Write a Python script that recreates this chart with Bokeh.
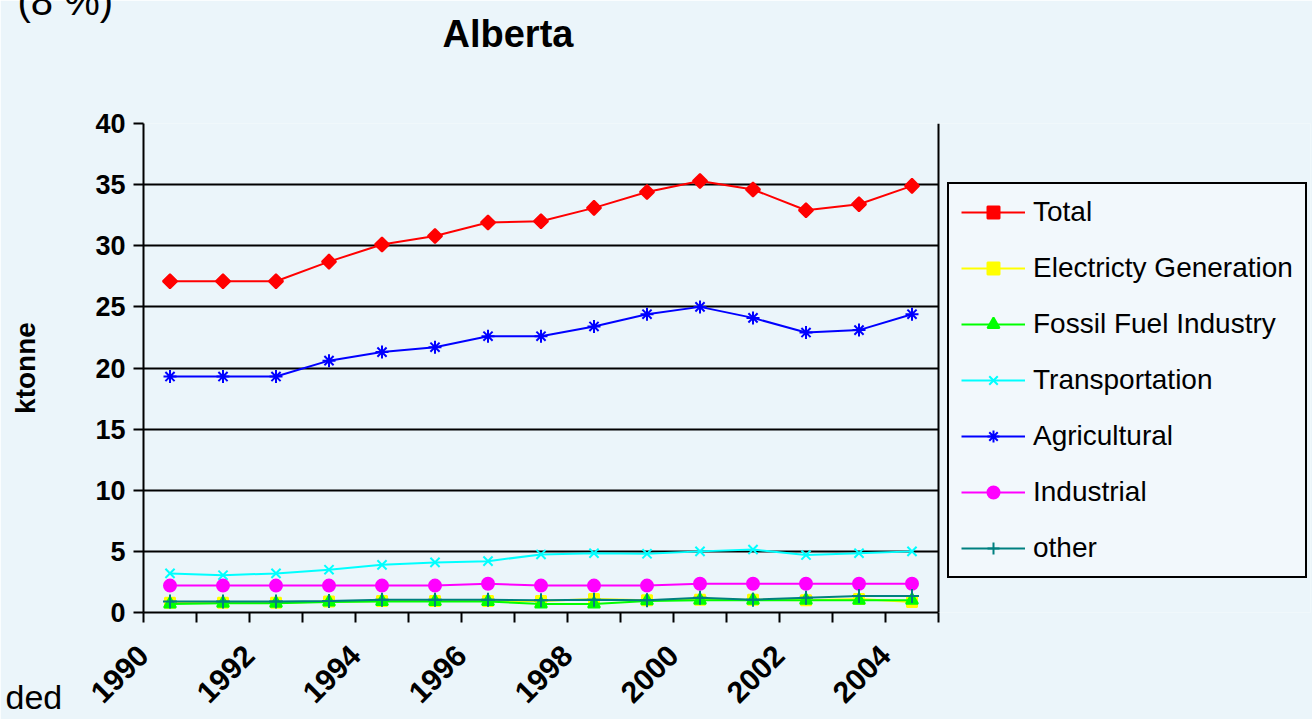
from bokeh.plotting import figure
from bokeh.models import Legend, LegendItem, FixedTicker, Range1d, Title, Span
from bokeh.embed import file_html
from bokeh.resources import INLINE

years = list(range(1990, 2005))
total = [27.1, 27.1, 27.1, 28.7, 30.1, 30.8, 31.9, 32.0, 33.1, 34.4, 35.3, 34.6, 32.9, 33.4, 34.9]
electricity = [0.8, 0.8, 0.8, 0.9, 0.95, 0.95, 0.95, 0.95, 1.1, 1.0, 1.05, 1.05, 1.0, 1.1, 0.85]
fossil = [0.7, 0.75, 0.75, 0.85, 0.9, 0.9, 0.9, 0.7, 0.7, 0.95, 1.0, 1.0, 1.0, 1.0, 1.0]
transportation = [3.2, 3.05, 3.2, 3.5, 3.9, 4.1, 4.2, 4.75, 4.85, 4.8, 5.0, 5.15, 4.7, 4.85, 5.0]
agricultural = [19.3, 19.3, 19.3, 20.6, 21.3, 21.7, 22.6, 22.6, 23.4, 24.4, 25.0, 24.1, 22.9, 23.1, 24.4]
industrial = [2.2, 2.2, 2.2, 2.2, 2.2, 2.2, 2.35, 2.2, 2.2, 2.2, 2.35, 2.35, 2.35, 2.35, 2.35]
other = [0.9, 0.9, 0.9, 0.95, 1.05, 1.05, 1.05, 1.0, 1.05, 1.0, 1.2, 1.05, 1.2, 1.35, 1.35]

y_ticks = [0, 5, 10, 15, 20, 25, 30, 35, 40]
tick_years = list(range(1990, 2006))

FONT = "Liberation Sans"
BG = "#ebf5fa"

# plot area: 15 year-slots between x=143 and x=938; the frame is widened to the
# right so that the legend (drawn inside the frame) is not clipped
n_slots = len(years)
PLOT_L, PLOT_R, FRAME_R = 143, 938, 1310
x_end = n_slots * (FRAME_R - PLOT_L) / (PLOT_R - PLOT_L)

x = [yr - years[0] + 0.5 for yr in years]

p = figure(width=1312, height=719, output_backend="svg", toolbar_location=None,
           x_range=Range1d(0, x_end), y_range=Range1d(0, 40),
           min_border_left=PLOT_L, min_border_right=1312 - FRAME_R,
           min_border_top=123, min_border_bottom=107)
p.background_fill_color = BG
p.border_fill_color = BG
p.outline_line_color = None

p.xgrid.visible = False
p.ygrid.ticker = FixedTicker(ticks=y_ticks)
p.ygrid.grid_line_color = "black"
p.ygrid.grid_line_width = 2
p.ygrid.cross_bounds = (0, n_slots)

# right edge of the plot area
p.add_layout(Span(location=n_slots, dimension="height", line_color="black", line_width=2))

p.yaxis.ticker = FixedTicker(ticks=y_ticks)
p.yaxis.axis_line_width = 2
p.yaxis.major_tick_line_width = 2
p.yaxis.major_tick_out = 10
p.yaxis.major_tick_in = 0
p.yaxis.minor_tick_line_color = None
p.yaxis.major_label_standoff = 8
p.yaxis.major_label_text_font = FONT
p.yaxis.major_label_text_font_style = "bold"
p.yaxis.major_label_text_font_size = "27px"
p.yaxis.major_label_text_color = "black"
p.yaxis.axis_label = "ktonne"
p.yaxis.axis_label_text_font = FONT
p.yaxis.axis_label_text_font_style = "bold"
p.yaxis.axis_label_text_font_size = "28px"
p.yaxis.axis_label_text_color = "black"
p.yaxis.axis_label_standoff = 51

tick_pos = [yr - years[0] for yr in tick_years]
p.xaxis.ticker = FixedTicker(ticks=tick_pos)
p.xaxis.bounds = (0, n_slots)
p.xaxis.major_label_overrides = {t: (str(yr) if (yr - years[0]) % 2 == 0 else "")
                                 for t, yr in zip(tick_pos, tick_years)}
p.xaxis.axis_line_width = 2
p.xaxis.major_tick_line_width = 2
p.xaxis.major_tick_out = 10
p.xaxis.major_tick_in = 0
p.xaxis.minor_tick_line_color = None
p.xaxis.major_label_orientation = 0.785398
p.xaxis.major_label_standoff = 28
p.xaxis.major_label_text_font = FONT
p.xaxis.major_label_text_font_style = "bold"
p.xaxis.major_label_text_font_size = "30px"
p.xaxis.major_label_text_color = "black"

series = [
    ("Total", total, "#ff0000", "square", 10, 0.785398),
    ("Electricty Generation", electricity, "#ffff00", "square", 10, 0),
    ("Fossil Fuel Industry", fossil, "#00ff00", "triangle", 12, 0),
    ("Transportation", transportation, "#00ffff", "x", 13, 0),
    ("Agricultural", agricultural, "#0000ff", "asterisk", 13, 0),
    ("Industrial", industrial, "#ff00ff", "circle", 12, 0),
    ("other", other, "#008080", "cross", 14, 0),
]

items = []
for name, vals, color, marker, size, ang in series:
    ln = p.line(x, vals, line_color=color, line_width=2)
    sc = p.scatter(x, vals, marker=marker, size=size, angle=ang, fill_color=color,
                   line_color=color, line_width=2)
    items.append(LegendItem(label=name, renderers=[ln, sc]))

legend = Legend(items=items, location=(804, 34))
legend.label_text_font = FONT
legend.label_text_font_size = "28px"
legend.label_text_color = "black"
legend.border_line_color = "black"
legend.border_line_width = 2
legend.border_line_alpha = 1.0
legend.background_fill_color = "white"
legend.background_fill_alpha = 0.35
legend.glyph_width = 64
legend.glyph_height = 30
legend.label_height = 30
legend.spacing = 24
legend.padding = 12
legend.margin = 0
legend.label_standoff = 8
p.add_layout(legend, "center")

# titles stacked above the frame: spacer, chart title, slide-text fragment
p.add_layout(Title(text=" ", text_font=FONT, text_font_size="10px", standoff=48), "above")
p.add_layout(Title(text="Alberta", align="left", offset=299, standoff=15,
                   text_font=FONT, text_font_style="bold", text_font_size="38px",
                   text_color="black"), "above")
p.add_layout(Title(text="(8 %)", align="left", offset=-126, standoff=-43,
                   vertical_align="top",
                   text_font=FONT, text_font_style="normal", text_font_size="40px",
                   text_color="black"), "above")
# slide-text fragment below the axis
p.add_layout(Title(text="ded", align="left", offset=-138, standoff=-74,
                   vertical_align="top",
                   text_font=FONT, text_font_style="normal", text_font_size="34px",
                   text_color="black"), "below")

open("out.html", "w").write(file_html(p, INLINE))
